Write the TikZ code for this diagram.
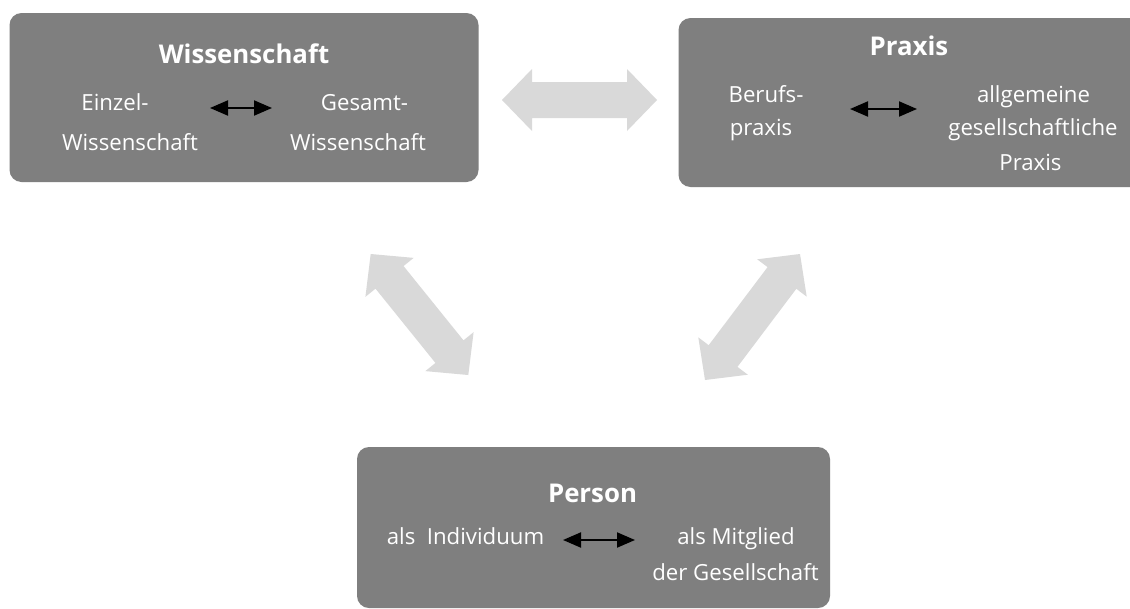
\documentclass[tikz,border=0pt]{standalone}
\usepackage{fontspec}
\setmainfont{Open Sans}
\usetikzlibrary{calc,arrows.meta}
\definecolor{boxgray}{HTML}{7F7F7F}
\definecolor{arrowgray}{HTML}{D9D9D9}
\tikzset{
  panel/.style={fill=boxgray, rounded corners=12pt, inner sep=0pt},
  txt/.style={text=white, anchor=base, inner sep=0pt,
    font=\fontsize{22.2}{26}\selectfont},
  heading/.style={text=white, anchor=base, inner sep=0pt,
    font=\bfseries\fontsize{25.8}{30}\selectfont},
  pairarrow/.style={black, line width=2pt,
    {Triangle[length=18pt,width=15pt]}-{Triangle[length=18pt,width=15pt]}},
  bigarrow/.style={fill=arrowgray}
}
% broad two-headed arrow between two tip coordinates
\newcommand\broadarrow[2]{%
  \path ($(#1)!30pt!(#2)$) coordinate (ha) ($(#2)!30pt!(#1)$) coordinate (hb);
  \fill[bigarrow] (#1) -- ($(ha)!31pt!90:(#2)$) -- ($(ha)!18pt!90:(#2)$)
    -- ($(hb)!18pt!-90:(#1)$) -- ($(hb)!31pt!-90:(#1)$) -- (#2)
    -- ($(hb)!31pt!90:(#1)$) -- ($(hb)!18pt!90:(#1)$)
    -- ($(ha)!18pt!-90:(#2)$) -- ($(ha)!31pt!-90:(#2)$) -- cycle;}
\begin{document}
\begin{tikzpicture}[x=1pt, y=-1pt]
  \clip (0,0) rectangle (1130,608);
  \fill[white] (0,0) rectangle (1130,608);

  % panels
  \node[panel, minimum width=469pt, minimum height=169pt] (wiss) at (244,97.5) {};
  \node[panel, minimum width=471pt, minimum height=169pt] (prax) at (914,102.5) {};
  \node[panel, minimum width=473pt, minimum height=161pt] (pers) at (593.5,527.5) {};

  % Wissenschaft
  \node[heading] (wissT) at (244,63) {Wissenschaft};
  \node[txt] (wissL1) at (115,110) {Einzel-};
  \node[txt] (wissL2) at (130,150) {Wissenschaft};
  \node[txt] (wissR1) at (364.5,110) {Gesamt-};
  \node[txt] (wissR2) at (358,150) {Wissenschaft};
  \coordinate (wa1) at (210,108);
  \coordinate (wa2) at (272,108);
  \draw[pairarrow] (wa1) -- (wa2);

  % Praxis
  \node[heading] (praxT) at (909,55) {Praxis};
  \node[txt] (praxL1) at (766,102) {Berufs-};
  \node[txt] (praxL2) at (761,135.5) {praxis};
  \node[txt] (praxR1) at (1033.5,102) {allgemeine};
  \node[txt] (praxR2) at (1033,135.5) {gesellschaftliche};
  \node[txt] (praxR3) at (1030.5,170.5) {Praxis};
  \coordinate (pa1) at (850,109);
  \coordinate (pa2) at (917,109);
  \draw[pairarrow] (pa1) -- (pa2);

  % Person
  \node[heading] (persT) at (592.5,502) {Person};
  \node[txt] (persL1) at (465.5,544) {als\ \ Individuum};
  \node[txt] (persR1) at (736,544) {als Mitglied};
  \node[txt] (persR2) at (735.5,580) {der Gesellschaft};
  \coordinate (ra1) at (563,540);
  \coordinate (ra2) at (635,540);
  \draw[pairarrow] (ra1) -- (ra2);

  % broad arrows between the panels
  \coordinate (wp1) at (502,100);
  \coordinate (wp2) at (657,100);
  \coordinate (ws1) at (370.7,254);
  \coordinate (ws2) at (468.3,375);
  \coordinate (ps1) at (800,254);
  \coordinate (ps2) at (705,380);
  \broadarrow{wp1}{wp2}
  \broadarrow{ws1}{ws2}
  \broadarrow{ps1}{ps2}
\end{tikzpicture}
\end{document}
